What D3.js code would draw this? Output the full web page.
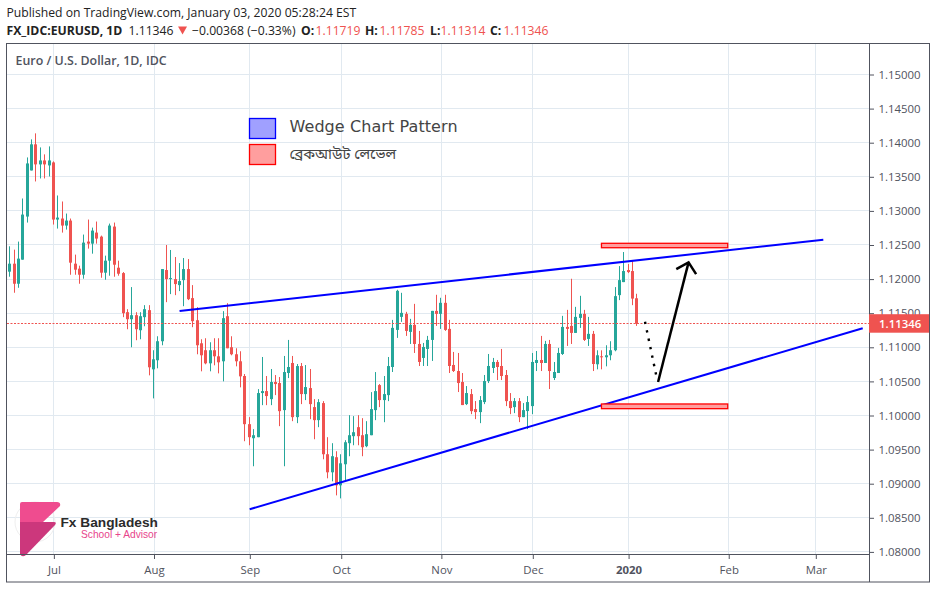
<!DOCTYPE html>
<html lang="en">
<head>
<meta charset="utf-8">
<title>EURUSD 1D</title>
<script src="https://cdnjs.cloudflare.com/ajax/libs/d3/7.8.5/d3.min.js"></script>
<style>
  html, body { margin: 0; background: #fff; }
  svg { display: block; font-family: "Open Sans", sans-serif; }
</style>
</head>
<body>
<script>
// daily candles (last one from the header)
var opens = [
  1.12109,1.12226,1.11932,1.12285,1.12917,1.13593,1.13976,1.13682,1.13740,1.13667,
  1.13711,1.12873,1.12888,1.12785,1.12858,1.12226,1.12153,1.12064,1.12550,1.12520,
  1.12682,1.12623,1.12094,1.12270,1.12770,1.12167,1.12088,1.11515,1.11412,1.11471,
  1.11250,1.11442,1.11545,1.10677,1.10810,1.11089,1.12133,1.12000,1.12000,1.11912,
  1.11985,1.12147,1.11721,1.11397,1.11059,1.10957,1.10765,1.10957,1.10868,1.10795,
  1.11456,1.11001,1.10898,1.10795,1.10579,1.09873,1.09667,1.09682,1.10329,1.10358,
  1.10240,1.10491,1.10476,1.10079,1.10623,1.10770,1.09976,1.10725,1.10314,1.10402,
  1.10123,1.09932,1.10182,1.09432,1.09167,1.09388,1.08976,1.09285,1.09594,1.09697,
  1.09829,1.09711,1.09550,1.09711,1.10079,1.10446,1.10226,1.10299,1.10711,1.11255,
  1.11446,1.11490,1.11226,1.11329,1.11049,1.10844,1.10976,1.11108,1.11534,1.11490,
  1.11652,1.11270,1.10741,1.10652,1.10491,1.10167,1.10314,1.10094,1.10050,1.10197,
  1.10505,1.10697,1.10785,1.10726,1.10594,1.10211,1.10123,1.10211,1.09976,1.10065,
  1.10138,1.10770,1.10814,1.10770,1.11049,1.10550,1.10623,1.10902,1.11299,1.11314,
  1.11211,1.11431,1.11490,1.11123,1.11197,1.10751,1.10868,1.10854,1.10883,1.10957,
  1.11765,1.11956,1.12133,1.12118,1.11719
];
var highs = [
  1.12481,1.12432,1.12550,1.13182,1.13784,1.14049,1.14137,1.13931,1.13829,1.13946,
  1.13726,1.13226,1.13138,1.12961,1.12888,1.12359,1.12197,1.12653,1.12873,1.12755,
  1.12844,1.12638,1.12344,1.12814,1.12829,1.12270,1.12103,1.11559,1.11883,1.11515,
  1.11515,1.11618,1.11618,1.10957,1.11162,1.12147,1.12500,1.12427,1.12324,1.12235,
  1.12309,1.12294,1.11912,1.11589,1.11118,1.11133,1.11074,1.11133,1.11133,1.11530,
  1.11647,1.11162,1.10986,1.10942,1.10608,1.09976,1.09800,1.10387,1.10858,1.10579,
  1.10682,1.10593,1.10564,1.10873,1.11108,1.10873,1.10755,1.10770,1.10740,1.10682,
  1.10240,1.10240,1.10211,1.09682,1.09594,1.09476,1.09432,1.09638,1.10005,1.09991,
  1.10005,1.09961,1.09917,1.10343,1.10637,1.10461,1.10579,1.10858,1.11402,1.11843,
  1.11799,1.11520,1.11417,1.11637,1.11240,1.11064,1.11167,1.11534,1.11770,1.11726,
  1.11770,1.11402,1.10932,1.10917,1.10623,1.10432,1.10388,1.10212,1.10285,1.10594,
  1.10902,1.10844,1.10814,1.10976,1.10667,1.10329,1.10256,1.10256,1.10182,1.10285,
  1.10917,1.10946,1.11167,1.11094,1.11108,1.10785,1.10991,1.11461,1.11549,1.12005,
  1.11593,1.11755,1.11549,1.11446,1.11240,1.10956,1.10956,1.11030,1.11089,1.11883,
  1.12191,1.12397,1.12221,1.12265,1.11785
];
var lows = [
  1.12035,1.11800,1.11873,1.12285,1.12829,1.13593,1.13432,1.13476,1.13476,1.13505,
  1.12800,1.12741,1.12682,1.12726,1.12064,1.12064,1.11932,1.12006,1.12447,1.12373,
  1.12520,1.12020,1.11991,1.12050,1.12035,1.12050,1.11442,1.11265,1.11001,1.11104,
  1.11118,1.11309,1.10589,1.10251,1.10692,1.11030,1.11662,1.11780,1.11765,1.11824,
  1.11603,1.11692,1.11295,1.10898,1.10648,1.10751,1.10648,1.10736,1.10618,1.10501,
  1.10986,1.10883,1.10721,1.10413,1.09623,1.09564,1.09256,1.09682,1.10152,1.10152,
  1.10152,1.10299,1.09844,1.09256,1.10549,1.09917,1.09888,1.10167,1.10226,1.09946,
  1.09652,1.09829,1.09358,1.09079,1.09035,1.08829,1.08785,1.09050,1.09403,1.09564,
  1.09564,1.09403,1.09535,1.09711,1.09932,1.10123,1.09902,1.10211,1.10638,1.11138,
  1.11373,1.11167,1.11049,1.10917,1.10726,1.10726,1.10726,1.10800,1.11314,1.11270,
  1.11241,1.10623,1.10638,1.10344,1.10153,1.10153,1.10020,1.09947,1.09888,1.10167,
  1.10476,1.10623,1.10520,1.10520,1.10138,1.10020,1.10035,1.09903,1.09976,1.09800,
  1.10020,1.10652,1.10652,1.10770,1.10388,1.10520,1.10623,1.10888,1.11020,1.11049,
  1.11211,1.11285,1.11093,1.11020,1.10652,1.10677,1.10677,1.10721,1.10810,1.10942,
  1.11692,1.11956,1.12088,1.11618,1.11314
];
var closes = [
  1.12226,1.11932,1.12300,1.12946,1.13696,1.13976,1.13682,1.13740,1.13682,1.13740,
  1.12873,1.12902,1.12785,1.12858,1.12241,1.12138,1.12064,1.12535,1.12520,1.12711,
  1.12594,1.12094,1.12270,1.12785,1.12211,1.12079,1.11500,1.11412,1.11471,1.11265,
  1.11456,1.11559,1.10707,1.10824,1.11089,1.12147,1.12000,1.12015,1.11927,1.11971,
  1.12147,1.11706,1.11383,1.11030,1.10883,1.10765,1.10957,1.10868,1.10780,1.11427,
  1.10986,1.10898,1.10795,1.10574,1.09873,1.09682,1.09711,1.10329,1.10358,1.10285,
  1.10491,1.10461,1.10064,1.10637,1.10711,1.09976,1.10725,1.10314,1.10417,1.10167,
  1.09932,1.10196,1.09432,1.09167,1.09403,1.08976,1.09299,1.09608,1.09711,1.09755,
  1.09697,1.09535,1.09726,1.10094,1.10358,1.10226,1.10314,1.10725,1.11285,1.11828,
  1.11505,1.11240,1.11329,1.11049,1.10785,1.11005,1.11108,1.11534,1.11490,1.11652,
  1.11255,1.10726,1.10652,1.10476,1.10153,1.10329,1.10064,1.10050,1.10226,1.10505,
  1.10726,1.10785,1.10711,1.10579,1.10211,1.10109,1.10211,1.09976,1.10079,1.10197,
  1.10785,1.10814,1.10770,1.11049,1.10652,1.10638,1.10917,1.11299,1.11270,1.11211,
  1.11446,1.11490,1.11108,1.11197,1.10755,1.10883,1.10854,1.10883,1.10957,1.11750,
  1.11985,1.12118,1.12103,1.11714,1.11346
];
var lastClose = 1.11346;

var priceTicks = [1.15,1.145,1.14,1.135,1.13,1.125,1.12,1.115,1.11,1.105,1.10,1.095,1.09,1.085,1.08];
var monthLabels = ["Jul","Aug","Sep","Oct","Nov","Dec","2020","Feb","Mar"];
var monthBars = [10,33,55,76,99,120,142,165,185];

// drawings on the chart, [bar, price]
var upperWedge = [[39.1,1.11532],[186.95,1.12578]];
var lowerWedge = [[55.2,1.08625],[196.0,1.11279]];
var breakoutUpper = {bars:[136,165], prices:[1.12525,1.12460]};
var breakoutLower = {bars:[136,165], prices:[1.10169,1.10100]};
var dipPath = [[146.0,1.11375],[148.8,1.10521]];
var risePath = [[149.0,1.10491],[156.0,1.12246]];

var width = 936, height = 589;
var plot = {left:7, right:869, top:44, bottom:555};
var upColor = "#26a69a", downColor = "#ef5350", gridColor = "#e1e9f0", frameColor = "#50535e";

var x = d3.scaleLinear().domain([0,144]).range([9.33,636.3]);
var y = d3.scaleLinear().domain([1.15,1.08]).range([74.5,551.9]);

var svg = d3.select("body").append("svg").attr("width",width).attr("height",height);

// header
var head = svg.append("g").attr("font-size",12.2).attr("fill","#222");
head.append("text").attr("x",6.5).attr("y",17).text("Published on TradingView.com, January 03, 2020 05:28:24 EST");
var headParts = [
  {t:"FX_IDC:EURUSD, 1D",x:6.5,b:true},
  {t:"1.11346",x:128.5},
  {t:"\u22120.00368 (\u22120.33%)",x:192},
  {t:"O:",x:301,b:true},{t:"1.11719",x:315.5,r:true},
  {t:"H:",x:365,b:true},{t:"1.11785",x:379.5,r:true},
  {t:"L:",x:430,b:true},{t:"1.11314",x:440.5,r:true},
  {t:"C:",x:490,b:true},{t:"1.11346",x:503.5,r:true}
];
head.selectAll("text.part").data(headParts).enter().append("text")
  .attr("class","part")
  .attr("x",function(d){return d.x})
  .attr("y",35)
  .attr("font-weight",function(d){return d.b?700:400})
  .attr("fill",function(d){return d.r?downColor:"#222"})
  .text(function(d){return d.t});
head.append("path").attr("d","M178 26.5H187L182.5 34.5Z").attr("fill",downColor);

// grid
var grid = svg.append("g").attr("stroke",gridColor).attr("stroke-width",1);
grid.selectAll("line.h").data(priceTicks).enter().append("line")
  .attr("class","h")
  .attr("x1",plot.left).attr("x2",plot.right)
  .attr("y1",function(d){return Math.floor(y(d))+0.5})
  .attr("y2",function(d){return Math.floor(y(d))+0.5});
grid.selectAll("line.v").data(monthBars).enter().append("line")
  .attr("class","v")
  .attr("y1",plot.top).attr("y2",plot.bottom)
  .attr("x1",function(d){return Math.floor(x(d)+1)+0.5})
  .attr("x2",function(d){return Math.floor(x(d)+1)+0.5});

// title
svg.append("text").attr("x",15.5).attr("y",65).attr("font-size",12.4).attr("font-weight",600)
  .attr("fill",frameColor).text("Euro / U.S. Dollar, 1D, IDC");

// candles
var candles = d3.range(closes.length).map(function(i){
  return {i:i,o:opens[i],h:highs[i],l:lows[i],c:closes[i]};
});
var candle = svg.append("g").selectAll("g").data(candles).enter().append("g")
  .attr("fill",function(d){return d.c>=d.o?upColor:downColor});
candle.append("rect")
  .attr("x",function(d){return Math.round(x(d.i))})
  .attr("width",1)
  .attr("y",function(d){return y(d.h)})
  .attr("height",function(d){return y(d.l)-y(d.h)});
candle.append("rect")
  .attr("x",function(d){return Math.round(x(d.i))-1})
  .attr("width",3)
  .attr("y",function(d){return y(Math.max(d.o,d.c))})
  .attr("height",function(d){return Math.max(1,Math.abs(y(d.o)-y(d.c)))});

// last price line
svg.append("line")
  .attr("x1",plot.left).attr("x2",plot.right)
  .attr("y1",Math.floor(y(lastClose))+0.5).attr("y2",Math.floor(y(lastClose))+0.5)
  .attr("stroke",downColor).attr("stroke-width",1).attr("stroke-dasharray","2 1.5");

// wedge lines
var line = d3.line().x(function(d){return x(d[0])}).y(function(d){return y(d[1])});
svg.selectAll("path.wedge").data([upperWedge,lowerWedge]).enter().append("path")
  .attr("class","wedge").attr("d",line).attr("fill","none")
  .attr("stroke","#0000ff").attr("stroke-width",2);

// breakout levels
svg.selectAll("rect.level").data([breakoutUpper,breakoutLower]).enter().append("rect")
  .attr("class","level")
  .attr("x",function(d){return x(d.bars[0])})
  .attr("width",function(d){return x(d.bars[1])-x(d.bars[0])})
  .attr("y",function(d){return y(d.prices[0])})
  .attr("height",function(d){return y(d.prices[1])-y(d.prices[0])})
  .attr("fill","#ff9e9e").attr("stroke","#ff0000").attr("stroke-width",1.3);

// dotted dip and the arrow up
svg.append("path").datum(dipPath).attr("d",line).attr("fill","none")
  .attr("stroke","#000").attr("stroke-width",2.4).attr("stroke-dasharray","2.4 6.2");
svg.append("path").datum(risePath).attr("d",line).attr("fill","none")
  .attr("stroke","#000").attr("stroke-width",2.5);
(function(){
  var tip = [x(risePath[1][0]),y(risePath[1][1])];
  var ang = Math.atan2(y(risePath[0][1])-tip[1],x(risePath[0][0])-tip[0]);
  var wing = function(a){ return [tip[0]+14*Math.cos(ang+a),tip[1]+14*Math.sin(ang+a)] };
  svg.append("path").attr("d",d3.line()([wing(0.82),tip,wing(-0.82)]))
    .attr("fill","none").attr("stroke","#000").attr("stroke-width",2.5);
})();

// legend box
var legend = [
  {t:"Wedge Chart Pattern",y:118.5,h:20,fill:"#a0a0ff",stroke:"#0000ff",ty:132,size:16,sp:0.08,ff:"DejaVu Sans"},
  {t:"\u09ac\u09cd\u09b0\u09c7\u0995\u0986\u0989\u099f \u09b2\u09c7\u09ad\u09c7\u09b2",y:144.5,h:20,fill:"#ff9e9e",stroke:"#ff0000",ty:159,size:14.6,sp:0,ff:"'Noto Sans Bengali','Noto Serif Bengali','Lohit Bengali',sans-serif"}
];
var lg = svg.selectAll("g.lg").data(legend).enter().append("g").attr("class","lg");
lg.append("rect").attr("x",249.5).attr("width",26)
  .attr("y",function(d){return d.y}).attr("height",function(d){return d.h})
  .attr("fill",function(d){return d.fill}).attr("stroke",function(d){return d.stroke}).attr("stroke-width",1.3);
lg.append("text").attr("x",289.5).attr("y",function(d){return d.ty})
  .attr("font-family",function(d){return d.ff})
  .attr("font-size",function(d){return d.size}).attr("letter-spacing",function(d){return d.sp})
  .attr("fill","#444").text(function(d){return d.t});

// logo
var logo = svg.append("g");
logo.append("circle").attr("cx",35).attr("cy",522).attr("r",20).attr("fill","none").attr("stroke","#efefef").attr("stroke-width",1);
logo.append("path").attr("d","M22 502H57Q61 502 60 506L43 522H20V504Q20 502 22 502Z").attr("fill","#ef4c8f");
logo.append("path").attr("d","M20 522H54Q57 522 55 525L26 555Q22 558 20 554Z").attr("fill","#cc377c");
logo.append("text").attr("x",60.5).attr("y",527).attr("font-family","Liberation Sans").attr("font-weight",700)
  .attr("font-size",13.7).attr("fill","#2b2b2b").text("Fx Bangladesh");
logo.append("text").attr("x",81).attr("y",538).attr("font-family","Liberation Sans")
  .attr("font-size",10.2).attr("fill","#e8458c").text("School + Advisor");

// axes and frame
var yAxis = svg.append("g").attr("transform","translate("+plot.right+",0)")
  .call(d3.axisRight(y).tickValues(priceTicks).tickSize(5).tickPadding(4.5).tickFormat(d3.format(".5f")));
var xAxis = svg.append("g").attr("transform","translate(0,"+plot.bottom+")")
  .call(d3.axisBottom(d3.scaleLinear().domain([0,144]).range([10.33,637.3])).tickValues(monthBars).tickSize(4).tickPadding(7)
    .tickFormat(function(d,i){return monthLabels[i]}));
[yAxis,xAxis].forEach(function(a){
  a.select(".domain").remove();
  a.selectAll("line").attr("stroke",frameColor);
  a.selectAll("text").attr("fill",frameColor).attr("font-size",11.4).attr("font-family","Open Sans");
});
xAxis.selectAll(".tick text").attr("font-weight",function(d,i){return monthLabels[i]=="2020"?700:400});

var frame = svg.append("g").attr("stroke",frameColor).attr("stroke-width",1).attr("fill","none");
frame.append("rect").attr("x",6.5).attr("y",43.5).attr("width",923).attr("height",538.5);
frame.append("line").attr("x1",869.5).attr("x2",869.5).attr("y1",43.5).attr("y2",582);
frame.append("line").attr("x1",6.5).attr("x2",869.5).attr("y1",554.5).attr("y2",554.5);

// last price tag, covers part of the 1.11500 label as in the original
var tag = svg.append("g");
tag.append("rect").attr("x",869).attr("width",60).attr("y",y(lastClose)-9.5).attr("height",18.5).attr("fill",downColor);
tag.append("text").attr("x",879).attr("y",y(lastClose)+4.2).attr("fill","#fff").attr("font-size",11.4)
  .attr("font-weight",600).text(d3.format(".5f")(lastClose));
</script>
</body>
</html>
